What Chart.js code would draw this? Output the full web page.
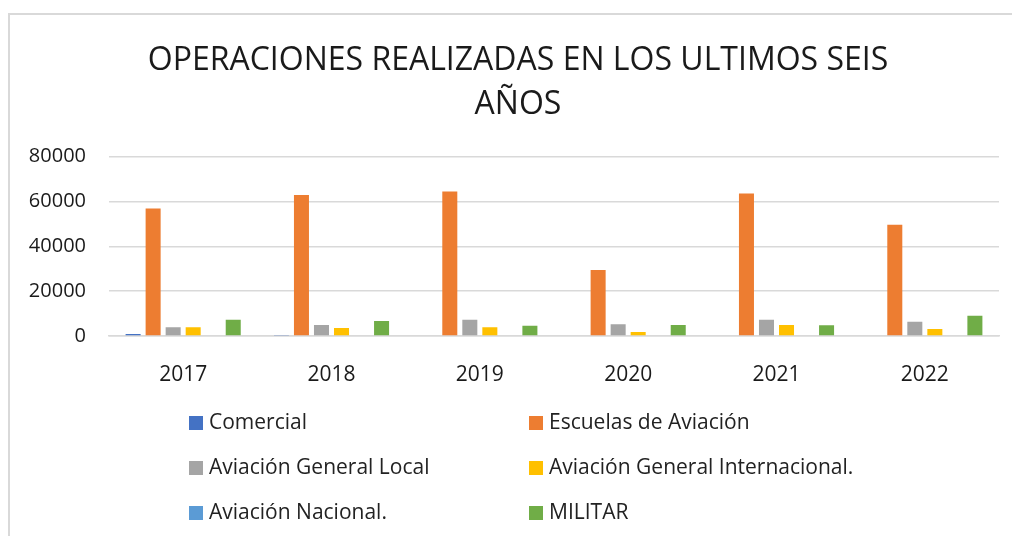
<!DOCTYPE html>
<html>
<head>
<meta charset="utf-8">
<script src="https://cdn.jsdelivr.net/npm/chart.js@4/dist/chart.umd.min.js"></script>
<style>
  html, body { margin: 0; padding: 0; background: #fff; }
  #wrap { position: relative; width: 1012px; height: 536px; overflow: hidden; }
  #frame { position: absolute; left: 8px; top: 13px; width: 1100px; height: 600px;
           border: 2px solid #d9d9d9; box-sizing: border-box; }
  #chart1 { position: absolute; left: 0; top: 0; }
  #legend { position: absolute; left: 0; top: 0; width: 1012px; height: 536px; pointer-events: none;
            font-family: "Open Sans", sans-serif; font-size: 21px; color: #222; }
  .item { position: absolute; height: 24px; line-height: 24px; white-space: nowrap; transform: translateY(-50%); }
  .box { display: inline-block; width: 14px; height: 14px; margin-right: 6px; vertical-align: -1px; }
</style>
</head>
<body>
<div id="wrap">
  <div id="frame"></div>
  <canvas id="chart1" width="1012" height="536"></canvas>
  <div id="legend"></div>
</div>
<script>
var years = ["2017", "2018", "2019", "2020", "2021", "2022"];
var seriesNames = ["Comercial", "Escuelas de Aviación", "Aviación General Local",
	"Aviación General Internacional.", "Aviación Nacional.", "MILITAR"];
var comercial = [900, 500, 0, 0, 0, 0];
var escuelas = [56900, 62900, 64400, 29400, 63600, 49600];
var generalLocal = [3900, 4900, 7200, 5200, 7200, 6300];
var generalInternacional = [3900, 3600, 3900, 1800, 4900, 3100];
var nacional = [0, 0, 300, 0, 300, 0];
var militar = [7200, 6700, 4600, 4900, 4800, 9000];
var yTicks = [0, 20000, 40000, 60000, 80000];

var colors = ["#4472C4", "#ED7D31", "#A5A5A5", "#FFC000", "#5B9BD5", "#70AD47"];
var values = [comercial, escuelas, generalLocal, generalInternacional, nacional, militar];

var ctx = document.getElementById("chart1").getContext("2d");
var chartdata = {
	type: "bar",
	data: {
		labels: years,
		datasets: values.map(function (v, i) {
			return {
				label: seriesNames[i],
				data: v,
				yAxisID: "y",
				backgroundColor: colors[i],
				categoryPercentage: 0.81,
				barPercentage: 0.75
			};
		})
	},
	options: {
		responsive: false,
		animation: false,
		// left padding keeps the title centred on the frame, like the original
		layout: { padding: { left: 24, right: 0, top: 0, bottom: 0 } },
		plugins: {
			legend: { display: false },
			tooltip: { enabled: false },
			title: {
				display: true,
				text: ["OPERACIONES REALIZADAS EN LOS ULTIMOS SEIS", "AÑOS"],
				color: "#1a1a1a",
				font: { family: "Open Sans", size: 32, weight: "normal", lineHeight: 1.4 },
				padding: { top: 38, bottom: 29 }
			}
		},
		scales: {
			x: {
				grid: { display: false },
				border: { display: true, color: "#d9d9d9", width: 1.5 },
				ticks: { color: "#1a1a1a", padding: 18, font: { family: "Open Sans", size: 21 } },
				afterFit: function (scale) { scale.height = 200; }
			},
			y: {
				min: 0,
				max: yTicks[yTicks.length - 1],
				afterBuildTicks: function (scale) {
					scale.ticks = yTicks.map(function (v) { return { value: v }; });
				},
				grid: { color: "#d9d9d9", lineWidth: 1.5, drawTicks: false },
				border: { display: false },
				ticks: {
					color: "#1a1a1a", padding: 23,
					font: { family: "Open Sans", size: 20 },
					callback: function (v) { return String(v); }
				},
				afterFit: function (scale) { scale.width = 85; }
			},
			// empty spacer on the right side of the plot
			spacer: {
				axis: "y",
				position: "right",
				display: true,
				grid: { display: false },
				border: { display: false },
				ticks: { display: false },
				afterFit: function (scale) { scale.width = 13; }
			}
		}
	}
};

var chart = new Chart(ctx, chartdata);

// legend in two columns, like the original
var legendPos = [[189, 421], [529, 421], [189, 466], [529, 466], [189, 511], [529, 511]];
var legend = document.getElementById("legend");
chart.data.datasets.forEach(function (ds, i) {
	var item = document.createElement("div");
	item.className = "item";
	item.style.left = legendPos[i][0] + "px";
	item.style.top = legendPos[i][1] + "px";
	var box = document.createElement("span");
	box.className = "box";
	box.style.background = ds.backgroundColor;
	item.appendChild(box);
	item.appendChild(document.createTextNode(ds.label));
	legend.appendChild(item);
});
</script>
</body>
</html>
